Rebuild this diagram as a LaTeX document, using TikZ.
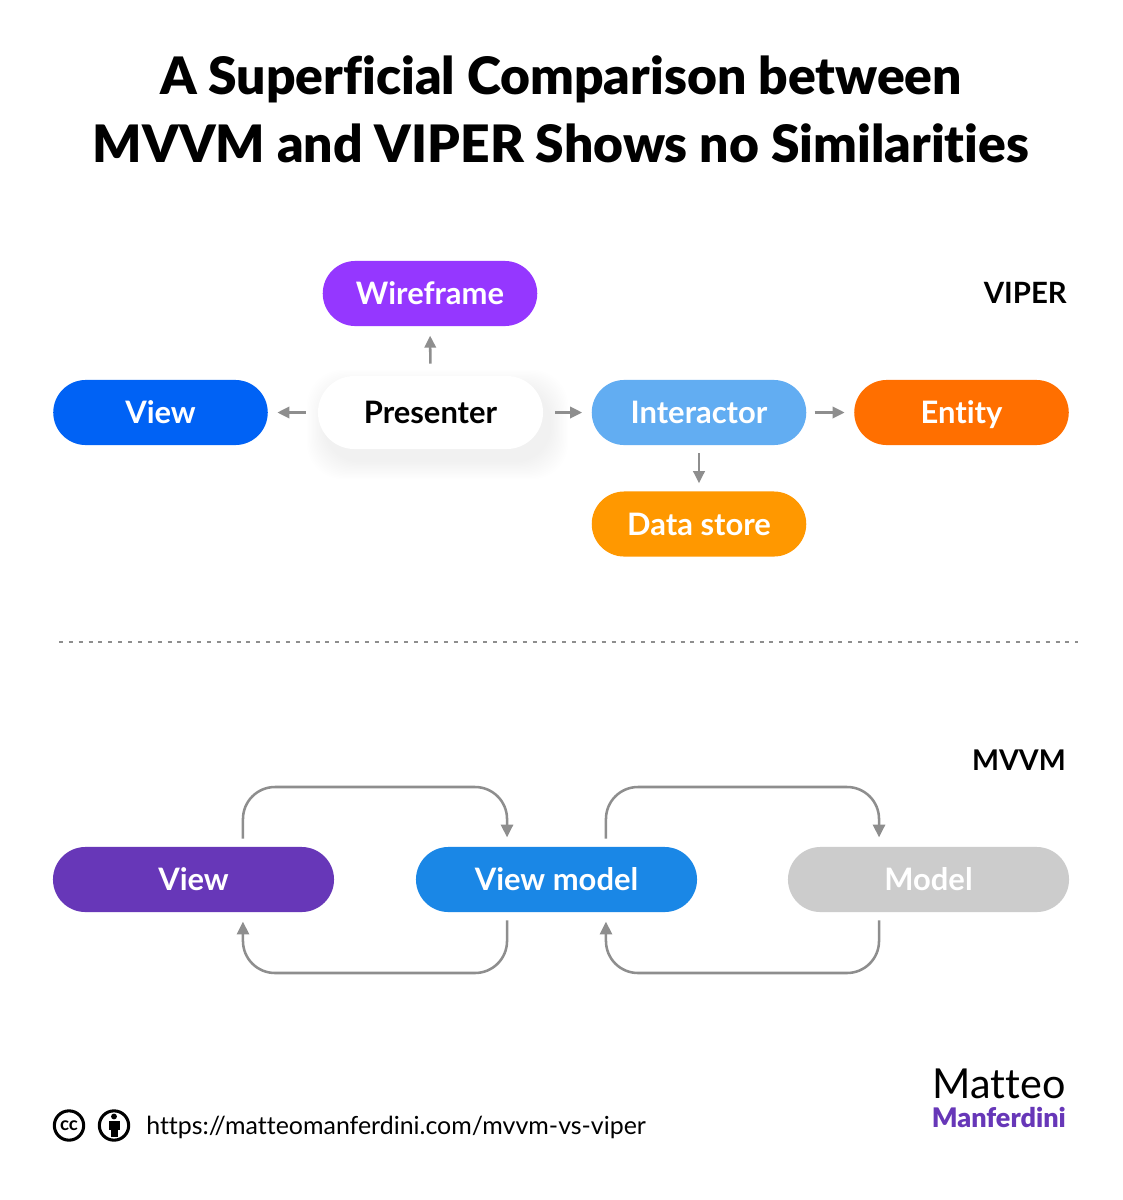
\documentclass[tikz,border=0pt]{standalone}
\usepackage{fontspec}
\setmainfont{Lato}[Ligatures=NoCommon]
\newfontfamily\heavyfont{Lato Black}[Ligatures=NoCommon]
\usetikzlibrary{arrows.meta,calc}
\definecolor{conncol}{HTML}{8E8E8E}
\definecolor{cview}{HTML}{0062F5}
\definecolor{cwire}{HTML}{9537FF}
\definecolor{cinter}{HTML}{62ADF2}
\definecolor{centity}{HTML}{FF6F00}
\definecolor{cstore}{HTML}{FF9800}
\definecolor{cpurple}{HTML}{6737B8}
\definecolor{cvm}{HTML}{1A87E6}
\definecolor{cmodel}{HTML}{CCCCCC}
\newcommand{\pxfont}[1]{\fontsize{#1}{#1}\selectfont}
\tikzset{
  x=0.75pt,y=-0.75pt,
  pill/.style={rounded corners=24.4pt,minimum height=48.8pt,inner sep=0pt,text=white,text height=17pt,text depth=0pt,font=\pxfont{23.2pt}\bfseries},
  vipill/.style={pill,minimum width=160.9pt},
  mvpill/.style={pill,minimum width=210.8pt},
  conn/.style={draw=conncol,line width=1.9pt,-{Triangle[length=9pt,width=8.5pt]}},
  loopline/.style={draw=conncol,line width=1.9pt,rounded corners=24pt,-{Triangle[length=9.5pt,width=9pt]}},
  heading/.style={font=\pxfont{22pt}\bfseries,text=black,inner sep=0pt,anchor=base east},
}
\begin{document}
\begin{tikzpicture}
\useasboundingbox (0,0) rectangle (1122,1200);
\fill[white] (0,0) rectangle (1122,1200);
% title
\node[font=\fontsize{38.7pt}{51pt}\selectfont\heavyfont,align=center,inner sep=0pt,anchor=base] (title) at (561,162)
  {A Superficial Comparison between\\MVVM and VIPER Shows no Similarities};
% presenter shadow
\foreach \w in {1,...,14}{
  \fill[black,opacity=0.0035,rounded corners=27pt]
    ({325-\w*1.3},{388-\w*1.3}) rectangle ({550+\w*1.3},{461+\w*1.3});
}
% VIPER
\node[vipill,fill=cwire] (wire) at (430,293.5) {Wireframe};
\node[vipill,fill=cview] (vview) at (160.5,412.5) {View};
\node[pill,fill=white,text=black,minimum width=168.8pt,minimum height=54.8pt,rounded corners=27.4pt] (pres) at (430.5,412.5) {Presenter};
\node[vipill,fill=cinter] (inter) at (699,412.5) {Interactor};
\node[vipill,fill=centity] (entity) at (961.5,412.5) {Entity};
\node[vipill,fill=cstore] (store) at (699,524) {Data store};
\node[heading] (viper) at (1067,303) {VIPER};
\draw[conn,shorten <=9pt,shorten >=7pt] (pres.west) -- (vview.east);
\draw[conn,shorten <=9pt,shorten >=7pt] (pres.east) -- (inter.west);
\draw[conn,shorten <=9pt,shorten >=7pt] (pres.north) -- (wire.south);
\draw[conn,shorten <=6pt,shorten >=7pt] (inter.east) -- (entity.west);
\draw[conn,shorten <=6pt,shorten >=6pt] (inter.south) -- (store.north);
% divider
\coordinate (divl) at (59,642);
\coordinate (divr) at (1078,642);
\draw[conncol,line width=1.6pt,dash pattern=on 3pt off 4.4pt] (divl) -- (divr);
% MVVM
\node[heading,font=\pxfont{21.4pt}\bfseries] (mvvm) at (1066,770) {MVVM};
\node[mvpill,fill=cpurple] (mview) at (193.5,879.5) {View};
\node[mvpill,fill=cvm] (vm) at (556.5,879.5) {View model};
\node[mvpill,fill=cmodel] (model) at (928.5,879.5) {Model};
\coordinate (t1) at (375,787);
\coordinate (t2) at (742,787);
\coordinate (b1) at (375,973);
\coordinate (b2) at (742,973);
\draw[loopline,shorten <=6pt,shorten >=7pt] ([xshift=37.1pt]mview.north) |- (t1) -| ([xshift=-37.1pt]vm.north);
\draw[loopline,shorten <=6pt,shorten >=7pt] ([xshift=37.1pt]vm.north) |- (t2) -| ([xshift=-37.1pt]model.north);
\draw[loopline,shorten <=6pt,shorten >=7pt] ([xshift=-37.1pt]vm.south) |- (b1) -| ([xshift=37.1pt]mview.south);
\draw[loopline,shorten <=6pt,shorten >=7pt] ([xshift=-37.1pt]model.south) |- (b2) -| ([xshift=37.1pt]vm.south);
% footer
\node[circle,draw=black,line width=2.3pt,minimum size=22pt,inner sep=0pt,font=\pxfont{14pt}\bfseries] (cc) at (69,1125.5) {cc};
\node[circle,draw=black,line width=2.3pt,minimum size=22pt,inner sep=0pt] (by) at (114,1125.5) {};
\fill[black] (114,1116.5) circle (2.2pt);
\fill[black] (108.5,1121) rectangle (119.5,1130);
\fill[black] (110.5,1130) rectangle (117.5,1137);
\node[font=\pxfont{18.7pt},inner sep=0pt,anchor=base west] (url) at (146,1134) {https://matteomanferdini.com/mvvm-vs-viper};
\node[font=\pxfont{31pt},inner sep=0pt,anchor=base east] (logo1) at (1066,1098) {Matteo};
\node[font=\pxfont{20.2pt}\heavyfont,text=cpurple,inner sep=0pt,anchor=base east] (logo2) at (1066,1127) {Manferdini};
\end{tikzpicture}
\end{document}
